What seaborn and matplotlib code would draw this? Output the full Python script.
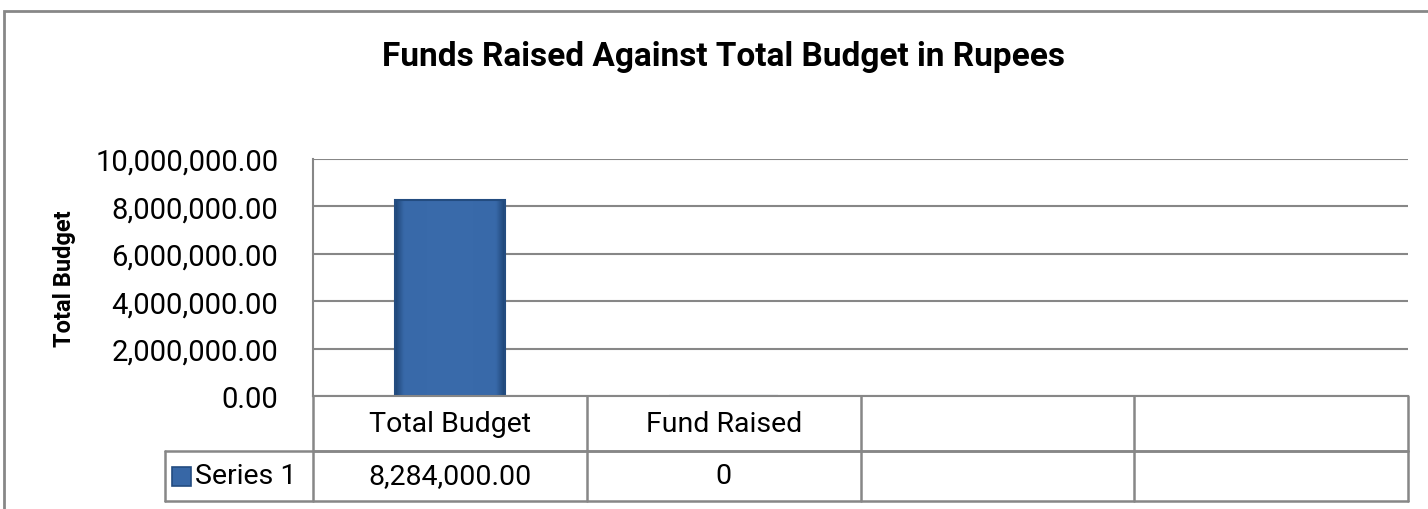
import matplotlib
matplotlib.use('Agg')
import matplotlib.pyplot as plt
import matplotlib.patches as mpatches
from matplotlib.colors import LinearSegmentedColormap
from matplotlib.transforms import blended_transform_factory
import numpy as np
import pandas as pd
import seaborn as sns

sns.set_style('white')
plt.rcParams['font.family'] = ['Roboto', 'DejaVu Sans']
plt.rcParams['text.color'] = 'black'

title = 'Funds Raised Against Total Budget in Rupees'
y_label = 'Total Budget'
series_name = 'Series 1'

# table columns (the last two are empty in the original)
categories = ['Total Budget', 'Fund Raised', '', '']
plotted = ['Total Budget', 'Fund Raised']
values = [8284000, 0]
value_labels = ['8,284,000.00', '0', '', '']
y_ticks = [0, 2000000, 4000000, 6000000, 8000000, 10000000]

bar_color = '#3767A6'
bar_edge = '#234C80'
line_color = '#878787'
bevel = LinearSegmentedColormap.from_list(
    'bevel', [(0, '#1F4677'), (0.08, '#3869A9'), (0.5, '#3A6BAB'),
              (0.92, '#3869A9'), (1, '#1F4677')])

W, H = 1428, 510
fig = plt.figure(figsize=(W / 100, H / 100), dpi=100)

# plot area in pixels: x 313..1408, y 160..397
ax = fig.add_axes([313 / W, 1 - 397 / H, (1408 - 313) / W, (397 - 160) / H])

df = pd.DataFrame({'cat': plotted, 'val': values})
sns.barplot(data=df, x='cat', y='val', order=plotted, ax=ax, width=0.4,
            color=bar_color, edgecolor=bar_edge, linewidth=1.5, saturation=1)

# Excel-like bevel shading on the bars
for bar in list(ax.patches):
    if bar.get_height() > 0:
        x0, y0 = bar.get_x(), bar.get_y()
        im = ax.imshow(np.linspace(0, 1, 200)[None, :], cmap=bevel, aspect='auto',
                       extent=[x0, x0 + bar.get_width(), y0, y0 + bar.get_height()],
                       zorder=bar.get_zorder(), interpolation='bilinear')
        im.set_clip_path(bar)
        bar.set_facecolor('none')
        bar.set_zorder(bar.get_zorder() + 0.5)

ax.set_xlim(-0.5, len(categories) - 0.5)
ax.set_ylim(y_ticks[0], y_ticks[-1])
ax.set_yticks(y_ticks)
ax.set_yticklabels([f'{t:,.2f}' for t in y_ticks], fontsize=21, color='black')
ax.tick_params(axis='y', length=0, pad=25)
ax.set_xticks([])
ax.set_xlabel('')
ax.set_ylabel('')
ax.yaxis.grid(True, color=line_color, linewidth=1.5)
ax.set_axisbelow(True)
for side in ['top', 'right']:
    ax.spines[side].set_visible(False)
for side in ['left', 'bottom']:
    ax.spines[side].set_color(line_color)
    ax.spines[side].set_linewidth(1.5)

# data table under the axis
tr = blended_transform_factory(ax.transData, ax.transAxes)
ah = 397 - 160
row1 = -(452 - 397) / ah
row2 = -(502 - 397) / ah
left_cell = -0.5 - (313 - 165) / ((1408 - 313) / len(categories))
n = len(categories)
kw = dict(color=line_color, linewidth=1.8, transform=tr, clip_on=False)
ax.plot([-0.5, n - 0.5], [row1, row1], **kw)
ax.plot([left_cell, n - 0.5], [row1, row1], **kw)
ax.plot([left_cell, n - 0.5], [row2, row2], **kw)
for i in range(n + 1):
    ax.plot([i - 0.5, i - 0.5], [0, row2], **kw)
ax.plot([left_cell, left_cell], [row1, row2], **kw)

for i, cat in enumerate(categories):
    ax.text(i, row1 / 2, cat, transform=tr, ha='center', va='center', fontsize=20.5)
    ax.text(i, (row1 + row2) / 2, value_labels[i], transform=tr,
            ha='center', va='center', fontsize=20.5)

# legend key + series name
fig.patches.append(mpatches.Rectangle((172 / W, 1 - 487 / H), 19 / W, 19 / H,
                                      transform=fig.transFigure, facecolor=bar_color,
                                      edgecolor=bar_edge, linewidth=1.2))
fig.text(195 / W, 1 - 477 / H, series_name, ha='left', va='center', fontsize=20.5)

fig.text(65 / W, 1 - 279 / H, y_label, rotation=90, ha='center', va='center',
         fontsize=17, fontweight='bold')
fig.text(724 / W, 1 - 57 / H, title, ha='center', va='center',
         fontsize=24, fontweight='bold')

# outer chart frame
fig.patches.append(mpatches.Rectangle((4 / W, -0.2), 1.2, 1.2 - 12 / H,
                                      transform=fig.transFigure, fill=False,
                                      edgecolor=line_color, linewidth=2))

fig.savefig('out.png', dpi=100)
